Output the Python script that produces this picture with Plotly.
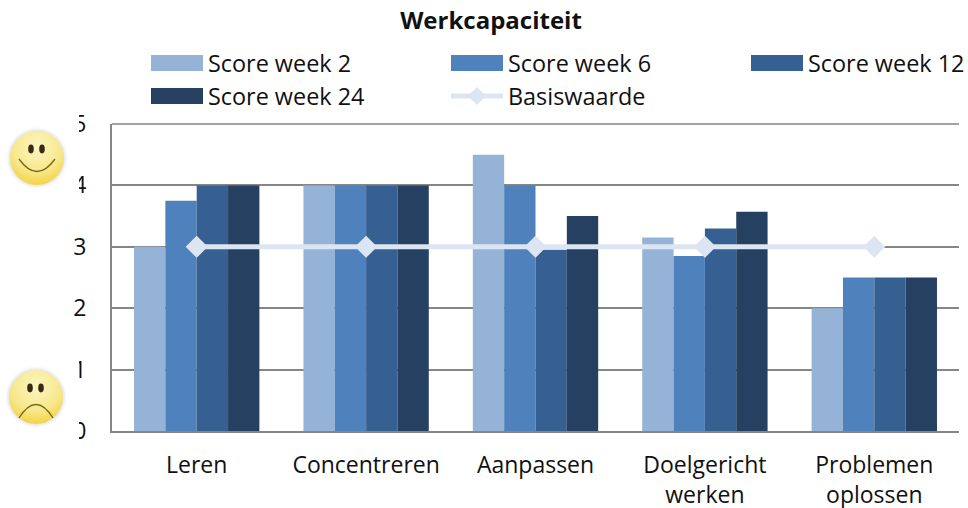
import base64
import plotly.graph_objects as go

categories = ["Leren", "Concentreren", "Aanpassen", "Doelgericht<br>werken", "Problemen<br>oplossen"]
week2 = [3, 4, 4.5, 3.15, 2]
week6 = [3.75, 4, 4, 2.85, 2.5]
week12 = [4, 4, 2.95, 3.3, 2.5]
week24 = [4, 4, 3.5, 3.57, 2.5]
baseline = [3, 3, 3, 3, 3]
series_names = ["Score week 2", "Score week 6", "Score week 12", "Score week 24"]
colors = ["#95B3D7", "#4F81BD", "#376092", "#254061"]
line_color = "#DCE6F2"
FONT = "Open Sans"
W, H = 968, 508


def face(happy, cx, cy):
    mouth = (f"M{cx-18} {cy+1} Q{cx} {cy+26} {cx+18} {cy+1}" if happy
             else f"M{cx-17} {cy+21} Q{cx} {cy-6} {cx+17} {cy+21}")
    svg = f"""<svg xmlns='http://www.w3.org/2000/svg' width='79' height='90' viewBox='0 0 79 90'>
<defs><radialGradient id='g' cx='50%' cy='30%' r='75%'><stop offset='0%' stop-color='#FBF6C4'/><stop offset='60%' stop-color='#F7E88C'/><stop offset='100%' stop-color='#F3D038'/></radialGradient>
<filter id='b'><feGaussianBlur stdDeviation='1.6'/></filter></defs>
<rect width='79' height='90' fill='white'/>
<circle cx='{cx}' cy='{cy}' r='28.5' fill='#C9C9D6' opacity='0.55' filter='url(#b)'/>
<circle cx='{cx}' cy='{cy}' r='27' fill='url(#g)'/>
<ellipse cx='{cx-6}' cy='{cy-9}' rx='2.8' ry='4.4' fill='#3A2A10'/>
<ellipse cx='{cx+5}' cy='{cy-9}' rx='2.8' ry='4.4' fill='#3A2A10'/>
<path d='{mouth}' fill='none' stroke='#7A6A1A' stroke-width='1.4'/>
</svg>"""
    return "data:image/svg+xml;base64," + base64.b64encode(svg.encode()).decode()


fig = go.Figure()
for name, vals, col in zip(series_names, [week2, week6, week12, week24], colors):
    fig.add_bar(x=categories, y=vals, name=name, marker=dict(color=col, line_width=0))
fig.add_scatter(x=categories, y=baseline, name="Basiswaarde", mode="lines+markers",
                line=dict(color=line_color, width=5),
                marker=dict(symbol="diamond", size=17, color=line_color))

PW = W - 121
shapes, annots = [], []
# top frame line of the plot area (value 5 gridline)
shapes.append(dict(type="line", xref="paper", yref="paper", x0=0, x1=1, y0=1, y1=1,
                   line=dict(color="#868686", width=1.5), layer="below"))
legend_items = [(151, 63, 0), (451, 63, 1), (751, 63, 2), (151, 96, 3)]
for x0, yc, i in legend_items:
    shapes.append(dict(type="rect", xref="paper", yref="paper",
                       x0=(x0-112)/PW, x1=(x0+52-112)/PW,
                       y0=(431-yc+8)/307, y1=(431-yc-8)/307,
                       fillcolor=colors[i], line_width=0))
    annots.append(dict(x=(x0+55-112)/PW, y=(431-yc)/307, xref="paper", yref="paper",
                       text=series_names[i], showarrow=False, xanchor="left", yanchor="middle",
                       font=dict(family=FONT, size=23.4, color="#111")))
shapes.append(dict(type="line", xref="paper", yref="paper",
                   x0=(451-112)/PW, x1=(503-112)/PW,
                   y0=(431-96)/307, y1=(431-96)/307, line=dict(color=line_color, width=5)))
shapes.append(dict(type="path", xref="paper", yref="paper",
                   path=" ".join(f"{c}{(x-112)/PW} {(431-y)/307}" for c, x, y in
                                 [("M", 477, 87), ("L", 486, 96), ("L", 477, 105), ("L", 468, 96)]) + " Z",
                   fillcolor=line_color, line_width=0))
annots.append(dict(x=(506-112)/PW, y=(431-96)/307, xref="paper", yref="paper",
                   text="Basiswaarde", showarrow=False, xanchor="left", yanchor="middle",
                   font=dict(family=FONT, size=23.4, color="#111")))

fig.update_layout(
    width=W, height=H, autosize=False, showlegend=False,
    margin=dict(l=112, r=9, t=124, b=77, autoexpand=False),
    paper_bgcolor="white", plot_bgcolor="white",
    barmode="group", bargap=0.26, bargroupgap=0,
    title=dict(text="<b>Werkcapaciteit</b>", x=491/W, xanchor="center", y=1-21/H, yanchor="middle",
               font=dict(family=FONT, size=24, color="#111")),
    font=dict(family=FONT, color="#111"),
    shapes=shapes, annotations=annots,
    images=[
        dict(source=face(True, 37, 48), xref="paper", yref="paper", sizing="stretch", layer="above",
             x=-112/PW, y=(431-110)/307, sizex=79/PW, sizey=90/307,
             xanchor="left", yanchor="top"),
        dict(source=face(False, 36, 42), xref="paper", yref="paper", sizing="stretch", layer="above",
             x=-112/PW, y=(431-355)/307, sizex=79/PW, sizey=90/307,
             xanchor="left", yanchor="top"),
    ],
)
fig.update_xaxes(showgrid=False, showline=True, linecolor="#868686", linewidth=2, ticks="",
                 tickfont=dict(family=FONT, size=23, color="#111"), ticklabelstandoff=12)
fig.update_yaxes(range=[0, 5], dtick=1, showgrid=True, gridcolor="#868686", gridwidth=1.5,
                 showline=True, linecolor="#868686", linewidth=2, ticks="", zeroline=False,
                 tickfont=dict(family=FONT, size=23, color="#111"), ticklabelstandoff=19)
fig.write_html("out.html", config={"displayModeBar": False},
               post_script="document.body.style.margin='0';document.body.style.overflow='hidden';")
